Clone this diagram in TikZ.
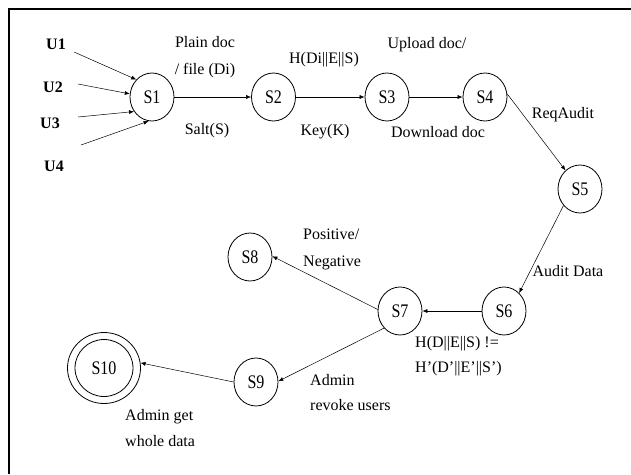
\documentclass[tikz,border=0pt]{standalone}
\usepackage{fontspec}
\usepackage{graphicx}
\setmainfont{Liberation Serif}
\usetikzlibrary{shapes.geometric,arrows.meta}
\newcommand{\stxt}[1]{\scalebox{1}[1.2]{#1}}
\begin{document}
\begin{tikzpicture}[x=1pt,y=-1pt,
 state/.style={draw, ellipse, line width=0.8pt, minimum width=44pt, minimum height=48pt, inner sep=0pt, font=\fontsize{16}{19}\selectfont},
 lbl/.style={inner sep=0pt, align=center, font=\fontsize{16}{27}\selectfont},
 llbl/.style={inner sep=0pt, align=left, anchor=west, font=\fontsize{16}{26}\selectfont},
 ulbl/.style={inner sep=0pt, font=\fontsize{16}{19}\selectfont\bfseries},
 arr/.style={-{Latex[length=5pt,width=4pt]}, line width=0.5pt},
 frame/.style={line width=1.5pt}]
\useasboundingbox (0,0) rectangle (631,474);
% frame
\coordinate (fbl) at (9,474);
\coordinate (ftl) at (9,9);
\coordinate (ftr) at (631,9);
\draw[frame] (fbl) -- (ftl) -- (ftr);

% states
\node[state] (S1) at (152,97) {\stxt{S1}};
\node[state] (S2) at (273.5,97) {\stxt{S2}};
\node[state] (S3) at (387,97) {\stxt{S3}};
\node[state] (S4) at (485,97) {\stxt{S4}};
\node[state] (S5) at (580,189) {\stxt{S5}};
\node[state] (S6) at (504,311) {\stxt{S6}};
\node[state] (S7) at (400,311) {\stxt{S7}};
\node[state] (S8) at (250,257) {\stxt{S8}};
\node[state] (S9) at (256,382) {\stxt{S9}};
\node[draw, ellipse, line width=0.8pt, minimum width=73pt, minimum height=71pt, inner sep=0pt] (S10) at (104,368) {};
\node[state, minimum width=58pt, minimum height=57pt] (S10in) at (104,368) {\stxt{S10}};

% users
\node[ulbl] (U1) at (56,44) {U1};
\node[ulbl] (U2) at (53,87) {U2};
\node[ulbl] (U3) at (50,123) {U3};
\node[ulbl] (U4) at (54,166) {U4};
\coordinate (u1s) at (74,52);
\coordinate (u2s) at (78,84);
\coordinate (u3s) at (78,117);
\coordinate (u4s) at (81,145);
\draw[arr] (u1s) -- (S1.132);
\draw[arr] (u2s) -- (S1.172);
\draw[arr] (u3s) -- (S1.219);
\draw[arr] (u4s) -- (S1.262);

% edges
\draw[arr] (S1) -- (S2);
\draw[arr] (S2) -- (S3);
\draw[arr] (S3) -- (S4);
\draw[arr] (S4.8) -- (S5.128);
\draw[arr] (S5.225) -- (S6.50);
\draw[arr] (S6) -- (S7);
\draw[arr] (S7.176) -- (S8.2);
\draw[arr] (S7.227) -- (S9.2);
\draw[arr] (S9.180) -- (S10.8);

% labels
\node[lbl] (l1) at (205,57.5) {Plain doc\\/ file (Di)};
\node[lbl] (l2) at (207,131) {Salt(S)};
\node[lbl] (l3) at (324,60) {H(Di||E||S)};
\node[lbl] (l4) at (325,132) {Key(K)};
\node[lbl] (l5) at (427,45) {Upload doc/};
\node[lbl] (l6) at (438,132) {Download doc};
\node[lbl] (l7) at (563,115) {ReqAudit};
\node[lbl] (l8) at (568,271) {Audit Data};
\node[llbl, font=\fontsize{16}{27}\selectfont] (l9) at (303,249.5) {Positive/\\Negative};
\node[llbl, font=\fontsize{16}{25}\selectfont] (l10) at (415,356.5) {H(D||E||S) !=\\H’(D’||E’||S’)};
\node[llbl, font=\fontsize{16}{25}\selectfont] (l11) at (310,392.5) {Admin\\revoke users};
\node[llbl] (l12) at (125,428) {Admin get\\whole data};
\end{tikzpicture}
\end{document}
